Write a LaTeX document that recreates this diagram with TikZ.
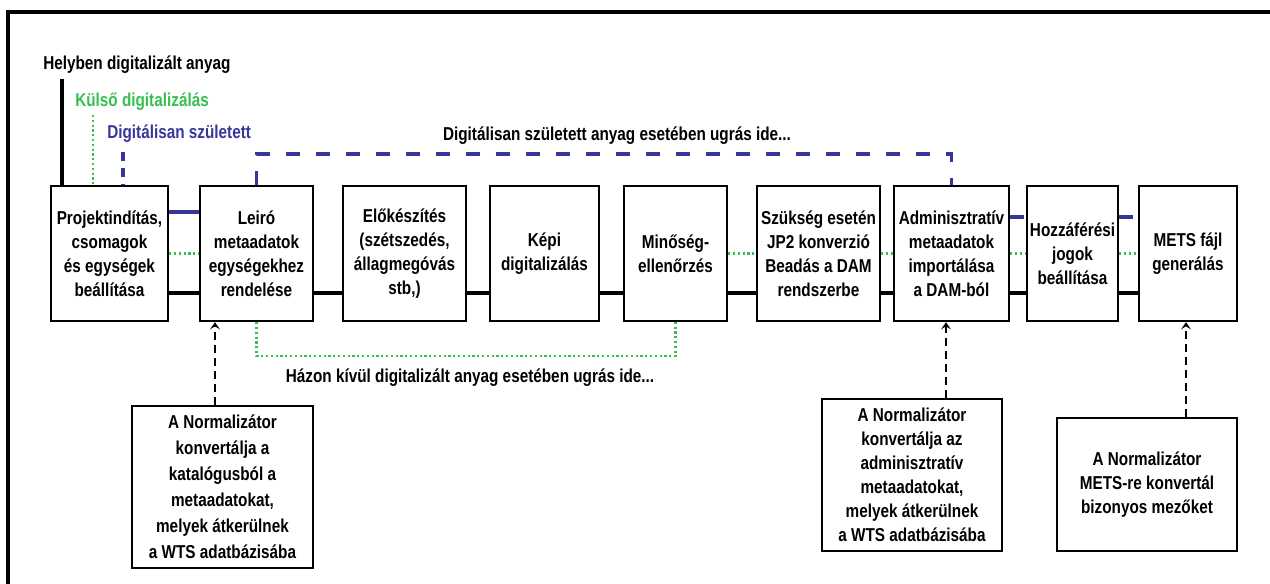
\documentclass[tikz,border=0pt]{standalone}
\usepackage{fontspec}
\setmainfont{Liberation Sans}[FakeStretch=0.82]
\usetikzlibrary{arrows.meta}
\definecolor{dblue}{RGB}{55,55,155}
\definecolor{dgreen}{RGB}{55,190,80}
\def\px{0.75pt}
\begin{document}
\begin{tikzpicture}[x=0.75pt,y=-0.75pt,
  font=\fontsize{14}{18}\selectfont\bfseries,
  mainbox/.style={draw, line width=1.8pt, minimum height=135*\px, align=center, inner sep=0pt},
  notebox/.style={draw, line width=1.8pt, align=center, inner sep=0pt},
  flow/.style={line width=3.4pt},
  bluesolid/.style={dblue, line width=2.6pt},
  bluedash/.style={dblue, line width=2.8pt, dash pattern=on 10.5pt off 12pt},
  greendot/.style={dgreen, line width=2pt, dash pattern=on 1.7pt off 1.9pt},
  feed/.style={line width=2pt, dash pattern=on 6pt off 3.75pt, -{Stealth[length=5.5pt,width=7.5pt,inset=2.5pt]}},
  lbl/.style={inner sep=0pt, anchor=west}]
\useasboundingbox (0,0) rectangle (1270,584);
% frame
\draw[line width=2.6pt] (8,590) -- (8,12) -- (1275,12);
% main boxes
\node[mainbox, minimum width=117*\px] (b1) at (109.5,253.5) {Projektindítás,\\csomagok\\és egységek\\beállítása};
\node[mainbox, minimum width=113*\px] (b2) at (256.5,253.5) {Leiró\\metaadatok\\egységekhez\\rendelése};
\node[mainbox, minimum width=123*\px] (b3) at (404.5,253.5) {Előkészítés\\(szétszedés,\\állagmegóvás\\stb,)};
\node[mainbox, minimum width=109*\px] (b4) at (544.5,253.5) {Képi\\digitalizálás};
\node[mainbox, minimum width=103*\px] (b5) at (675.5,253.5) {Minőség-\\ellenőrzés};
\node[mainbox, minimum width=123*\px] (b6) at (818.5,253.5) {Szükség esetén\\JP2 konverzió\\Beadás a DAM\\rendszerbe};
\node[mainbox, minimum width=115*\px] (b7) at (951.5,253.5) {Adminisztratív\\metaadatok\\importálása\\a DAM-ból};
\node[mainbox, minimum width=91*\px] (b8) at (1072.5,253.5) {Hozzáférési\\jogok\\beállítása};
\node[mainbox, minimum width=98*\px] (b9) at (1188,253.5) {METS fájl\\generálás};
% note boxes
\node[notebox, minimum width=181*\px, minimum height=162*\px, font=\fontsize{14}{19.5}\selectfont\bfseries] (nA) at (222.5,487) {A Normalizátor\\konvertálja a\\katalógusból a\\metaadatokat,\\melyek átkerülnek\\a WTS adatbázisába};
\node[notebox, minimum width=180*\px, minimum height=152*\px] (nB) at (912,475) {A Normalizátor\\konvertálja az\\adminisztratív\\metaadatokat,\\melyek átkerülnek\\a WTS adatbázisába};
\node[notebox, minimum width=180*\px, minimum height=133*\px] (nC) at (1147,484.5) {A Normalizátor\\METS-re konvertál\\bizonyos mezőket};
% labels
\node[lbl] (lh) at (43,65) {Helyben digitalizált anyag};
\node[lbl, text=dgreen] (lk) at (75,102) {Külső digitalizálás};
\node[lbl, text=dblue] (ld) at (107,134) {Digitálisan született};
\node[inner sep=0pt] (ltop) at (617,136) {Digitálisan született anyag esetében ugrás ide...};
\node[inner sep=0pt] (lbot) at (470,378) {Házon kívül digitalizált anyag esetében ugrás ide...};
% helper coordinates
\coordinate (yb) at (0,293);
\coordinate (yblue) at (0,212);
\coordinate (yblue2) at (0,217);
\coordinate (ytop) at (0,154);
\coordinate (ybot) at (0,356);
\coordinate (h1) at (62,79);
\coordinate (k1) at (93,115);
\coordinate (d1) at (123,152);
\coordinate (ax1) at (215,0);
\coordinate (ax2) at (946,0);
\coordinate (ax3) at (1186,0);
% flow lines
\foreach \a/\b in {b1/b2,b2/b3,b3/b4,b4/b5,b5/b6,b6/b7,b7/b8,b8/b9}
  \draw[flow] (\a.east|-yb) -- (\b.west|-yb);
\draw[bluesolid] (b1.east|-yblue) -- (b2.west|-yblue);
\foreach \a/\b in {b1/b2,b5/b6,b6/b7,b7/b8,b8/b9}
  \draw[greendot] (\a.east) -- (\b.west);
\draw[bluedash] (b7.east|-yblue2) -- (b8.west|-yblue2);
\draw[bluedash] (b8.east|-yblue2) -- (b9.west|-yblue2);
% entry lines
\draw[line width=2.6pt] (h1) -- (h1|-b1.north);
\draw[greendot] (k1) -- (k1|-b1.north);
\draw[bluedash, dash pattern=on 7pt off 5pt] (d1) -- (d1|-b1.north);
% jumps
\draw[bluedash] (b2.north) -- (b2.north|-ytop) -| (b7.north);
\draw[greendot] (b2.south) -- (b2.south|-ybot) -| (b5.south);
% feeds
\draw[feed] (nA.north-|ax1) -- (b2.south-|ax1);
\draw[feed] (nB.north-|ax2) -- (b7.south-|ax2);
\draw[feed] (nC.north-|ax3) -- (b9.south-|ax3);
\end{tikzpicture}
\end{document}
